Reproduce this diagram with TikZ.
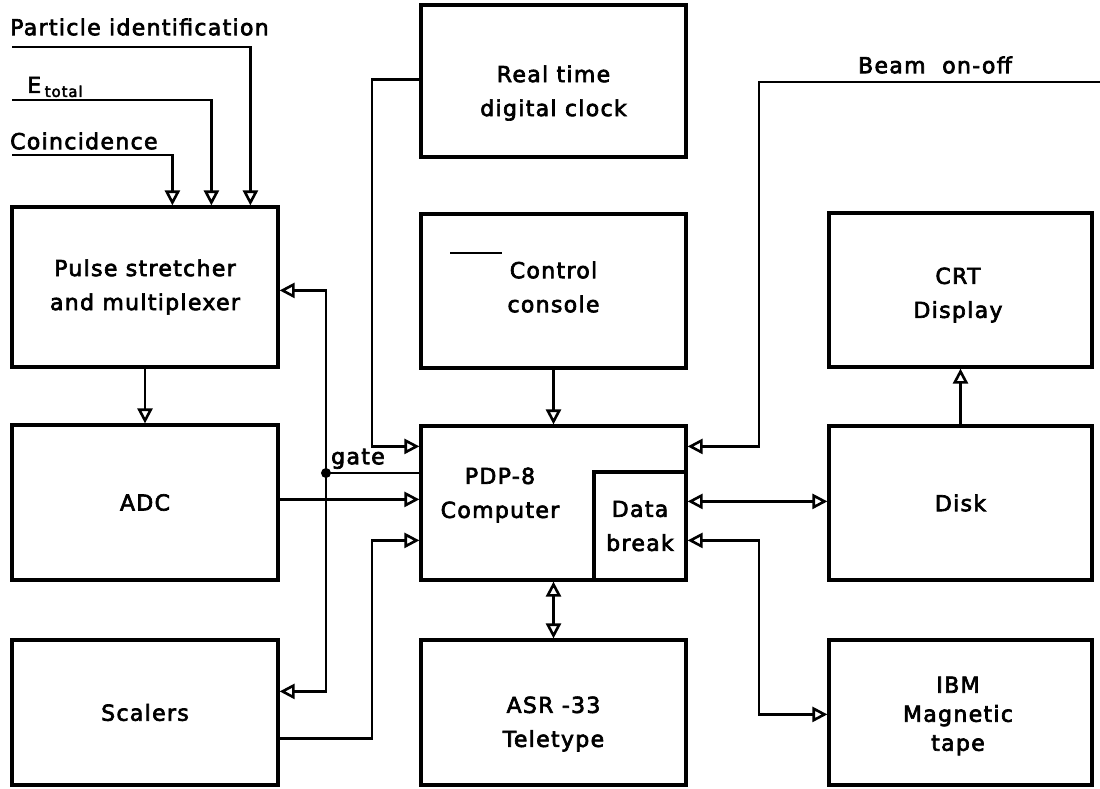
\documentclass[tikz,border=0pt]{standalone}
\usepackage{fontspec}
\setmainfont{DejaVu Sans}[LetterSpace=6.0,FakeBold=3]
\usetikzlibrary{arrows.meta,calc}
\newcommand{\diagfont}{\fontsize{22}{34}\selectfont}
\newcommand{\subfont}{\fontsize{15}{15}\selectfont}
\begin{document}
\begin{tikzpicture}[x=1pt,y=-1pt,
  box/.style={draw, line width=3.2pt, inner sep=0pt, align=center, font=\diagfont},
  lbl/.style={inner sep=0pt, align=center, font=\diagfont},
  conn/.style={line width=2.6pt},
  tip/.tip={Triangle[open,length=15pt,width=15pt]},
  arr/.style={conn, -tip},
  darr/.style={conn, tip-tip}]
\useasboundingbox (0,0) rectangle (1100,788);

% left column
\node[box, minimum width=266pt, minimum height=160pt] (pulse) at (145,287) {Pulse stretcher\\and multiplexer};
\node[box, minimum width=266pt, minimum height=155pt] (adc) at (145,502.5) {ADC};
\node[box, minimum width=266pt, minimum height=145pt] (scal) at (145,712.5) {Scalers};

% middle column
\node[box, minimum width=265pt, minimum height=152pt] (clock) at (553.5,81) {};
\node[lbl] (clocktxt) at (553.5,93) {Real time\\digital clock};
\node[box, minimum width=265pt, minimum height=154pt] (cons) at (553.5,291) {};
\node[lbl] (constxt) at (553.5,287) {Control\\console};
\node[box, minimum width=265pt, minimum height=154pt] (comp) at (553.5,503) {};
\node[lbl] (comptxt) at (500,495) {PDP-8\\Computer};
\node[box, minimum width=92pt, minimum height=108pt] (db) at (640,526) {};
\node[lbl] (dbtxt) at (640,526) {Data\\break};
\node[box, minimum width=265pt, minimum height=145pt] (tty) at (553.5,712.5) {};
\node[lbl] (ttytxt) at (553.5,724) {ASR -33\\Teletype};

% right column
\node[box, minimum width=263pt, minimum height=154pt] (crt) at (960.5,290) {};
\node[lbl] (crttxt) at (958,295) {CRT\\Display};
\node[box, minimum width=263pt, minimum height=154pt] (disk) at (960.5,503) {Disk};
\node[box, minimum width=263pt, minimum height=145pt] (tape) at (960.5,712.5) {};
\node[lbl, font=\fontsize{22}{29}\selectfont] (tapetxt) at (958,716) {IBM\\Magnetic\\tape};

% overline in control console
\draw[line width=1.6pt] (450,253) -- (502,253);

% bus x positions
\coordinate (busL) at (326,0);
\coordinate (busC) at (372,0);
\coordinate (busR) at (759,0);

% input labels and lines
\node[lbl, anchor=west] (pidl) at (10,27) {Particle identification};
\node[lbl, anchor=west] (etl) at (27,87) {E\,\raisebox{-4pt}{\subfont total}};
\node[lbl, anchor=west] (coil) at (10,141) {Coincidence};
\coordinate (pin) at (12,47);
\coordinate (ein) at (12,100);
\coordinate (cin) at (12,155);
\draw[arr] (pin) -| ($(pulse.north west)+(240,0)$);
\draw[arr] (ein) -| ($(pulse.north west)+(201,0)$);
\draw[arr] (cin) -| ($(pulse.north west)+(162,0)$);

% pulse -> adc
\draw[arr] (pulse.south) -- (adc.north);

% pulse <-> scalers with gate
\coordinate (pulR) at ($(pulse.north east)+(0,85)$);
\coordinate (scaR) at ($(scal.north east)+(0,53)$);
\draw[darr] (pulR) -- (pulR -| busL) |- (scaR);
\coordinate (gate) at (326,473);
\fill (gate) circle (5pt);
\draw[conn] (gate) -- (gate -| comp.west);
\node[lbl, anchor=south west] (gatel) at (331,469) {gate};

% clock -> computer
\coordinate (clkL) at ($(clock.north west)+(0,76)$);
\coordinate (compL1) at ($(comp.north west)+(0,22)$);
\draw[arr] (clkL) -- (clkL -| busC) |- (compL1);
% adc -> computer
\coordinate (adcR) at ($(adc.north east)+(0,76)$);
\draw[arr] (adcR) -- (adcR -| comp.west);
% scalers -> computer
\coordinate (scaR2) at ($(scal.north east)+(0,100)$);
\coordinate (compL3) at ($(comp.north west)+(0,116)$);
\draw[arr] (scaR2) -- (scaR2 -| busC) |- (compL3);
% console -> computer
\draw[arr] (cons.south) -- (comp.north);
% computer <-> teletype
\draw[darr] (comp.south) -- (tty.north);

% beam on-off
\coordinate (beam) at (1100,82);
\node[lbl] (beaml) at (935,65) {Beam\ \ on-off};
\coordinate (compR1) at ($(comp.north east)+(0,22)$);
\draw[arr] (beam) -- (beam -| busR) |- (compR1);

% data break <-> disk
\coordinate (dbR1) at ($(db.north east)+(0,31)$);
\draw[darr] (dbR1) -- (dbR1 -| disk.west);
% data break <-> tape
\coordinate (dbR2) at ($(db.north east)+(0,70)$);
\coordinate (tapeL) at ($(tape.north west)+(0,76)$);
\draw[darr] (dbR2) -- (dbR2 -| busR) |- (tapeL);
% disk -> crt
\draw[arr] (disk.north) -- (crt.south);
\end{tikzpicture}
\end{document}
